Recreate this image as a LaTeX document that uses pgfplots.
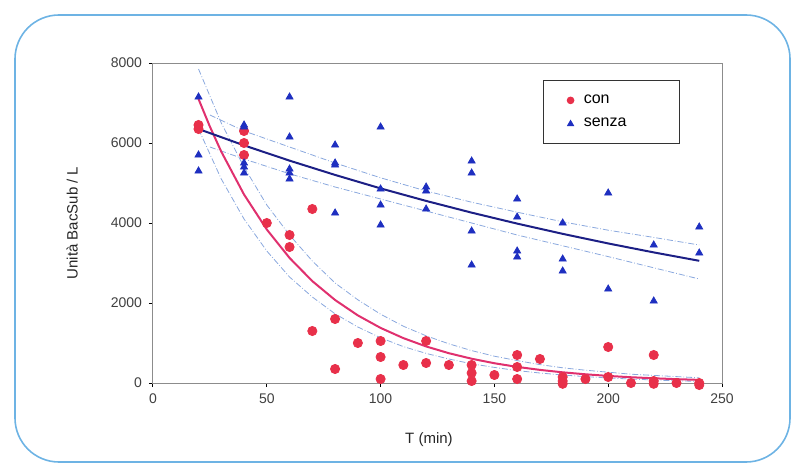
\documentclass[border=0pt]{standalone}
\usepackage{pgfplots}
\pgfplotsset{compat=1.18}
\usepackage{fontspec}
\setmainfont{Liberation Sans}
\definecolor{conred}{HTML}{E8304A}
\definecolor{confit}{HTML}{E0306E}
\definecolor{senzablue}{HTML}{1E2FC0}
\definecolor{senzafit}{HTML}{1C1F85}
\definecolor{bandblue}{HTML}{8AA8DE}
\definecolor{framecol}{HTML}{6DB3E4}

\begin{document}
\begin{tikzpicture}[x=0.5pt,y=0.5pt]
% picture is 795x465 px, 1 px = 0.5pt, origin at the plot's lower-left corner
\useasboundingbox (-153,-82) rectangle (642,383);
\draw[framecol, line width=0.8pt, rounded corners=22pt] (-138,-79) rectangle (637,368);
\begin{axis}[
    at={(0,0)}, anchor=origin,
    scale only axis,
    width=284.5pt, height=160pt,
    xmin=0, xmax=250, ymin=0, ymax=8000,
    xtick={0,50,...,250},
    ytick={0,2000,...,8000},
    x tick label style={/pgf/number format/.cd, set thousands separator={}, assume math mode=true},
    y tick label style={/pgf/number format/.cd, set thousands separator={}, assume math mode=true},
    scaled ticks=false,
    tick align=outside,
    xtick pos=bottom, ytick pos=left,
    major tick length=2pt,
    tick style={black, line width=0.5pt},
    ticklabel style={font=\fontsize{7}{8}\selectfont, text=black!75},
    x axis line style={black, line width=1pt},
    y axis line style={black!45, line width=0.5pt},
    xlabel={T (min)}, ylabel={Unità BacSub / L},
    label style={font=\fontsize{7.5}{9}\selectfont, text=black!85},
    xlabel style={at={(axis description cs:0.485,-0.178)}, anchor=center},
    ylabel style={at={(axis description cs:-0.142,0.5)}, anchor=center, rotate=0},
    legend style={at={(0.685,0.947)}, anchor=north west, draw=black!80, line width=0.6pt,
        font=\fontsize{8}{9}\selectfont, text width=34pt, inner xsep=12pt, inner ysep=5pt,
        row sep=2pt, /tikz/every odd column/.append style={column sep=3pt}},
    legend cell align=left,
    legend image post style={mark size=1.6pt},
    clip=false,
]
% confidence bands (dash-dot)
\addplot[bandblue, densely dashdotted, line width=0.4pt, forget plot] coordinates {
(20,7850) (30,6500) (40,5400) (50,4450) (60,3700) (70,3050) (80,2500) (90,2080)
(100,1720) (110,1420) (120,1180) (130,980) (140,810) (150,670) (160,560) (170,460)
(180,380) (190,320) (200,270) (210,220) (220,190) (230,160) (240,130)};
\addplot[bandblue, densely dashdotted, line width=0.4pt, forget plot] coordinates {
(20,6350) (30,5100) (40,4100) (50,3300) (60,2650) (70,2150) (80,1730) (90,1400)
(100,1130) (110,910) (120,740) (130,600) (140,480) (150,390) (160,310) (170,250)
(180,200) (190,160) (200,125) (210,100) (220,75) (230,55) (240,40)};
\addplot[bandblue, densely dashdotted, line width=0.4pt, forget plot] coordinates {
(25,6700) (40,6300) (60,5900) (80,5500) (100,5130) (120,4800) (140,4520)
(160,4270) (180,4030) (200,3820) (220,3640) (240,3450)};
\addplot[bandblue, densely dashdotted, line width=0.4pt, forget plot] coordinates {
(25,5900) (40,5600) (60,5230) (80,4900) (100,4600) (120,4300) (140,4000)
(160,3700) (180,3430) (200,3160) (220,2880) (240,2600)};
% data: con
\addplot[only marks, mark=*, mark size=2.3pt, color=conred] coordinates {
(20,6350) (20,6450)
(40,6300) (40,6000) (40,5700)
(50,4000)
(60,3700) (60,3400)
(70,4350) (70,1300)
(80,1600) (80,350)
(90,1000)
(100,1050) (100,650) (100,100)
(110,450)
(120,1050) (120,500)
(130,450)
(140,450) (140,250) (140,50)
(150,200)
(160,700) (160,400) (160,100)
(170,600)
(180,150) (180,50) (180,-20)
(190,100)
(200,900) (200,150)
(210,0)
(220,700) (220,50) (220,-20)
(230,0)
(240,0) (240,-50)};
\addlegendentry{con}
% data: senza
\addplot[only marks, mark=triangle*, mark size=2pt, color=senzablue] coordinates {
(20,7150) (20,5700) (20,5300)
(40,6450) (40,6400) (40,5500) (40,5400) (40,5250)
(60,7150) (60,6150) (60,5350) (60,5250) (60,5100)
(80,5950) (80,5500) (80,5450) (80,4250)
(100,6400) (100,4850) (100,4450) (100,3950)
(120,4900) (120,4800) (120,4350)
(140,5550) (140,5250) (140,3800) (140,2950)
(160,4600) (160,4150) (160,3300) (160,3150)
(180,4000) (180,3100) (180,2800)
(200,4750) (200,2350)
(220,3450) (220,2050)
(240,3900) (240,3250)};
\addlegendentry{senza}
% fitted curves
\addplot[confit, line width=1pt, forget plot] coordinates {
(20,7100) (25,6409) (30,5784) (40,4712) (50,3838) (60,3127) (70,2547) (80,2075)
(90,1690) (100,1377) (110,1122) (120,914) (130,745) (140,607) (150,494) (160,403)
(170,328) (180,267) (190,218) (200,177) (210,144) (220,118) (230,96) (240,78)};
\addplot[senzafit, line width=1pt, forget plot] coordinates {
(20,6350) (40,5941) (60,5559) (80,5202) (100,4865) (120,4552) (140,4259)
(160,3985) (180,3729) (200,3489) (220,3265) (240,3055)};
\end{axis}
\end{tikzpicture}
\end{document}
